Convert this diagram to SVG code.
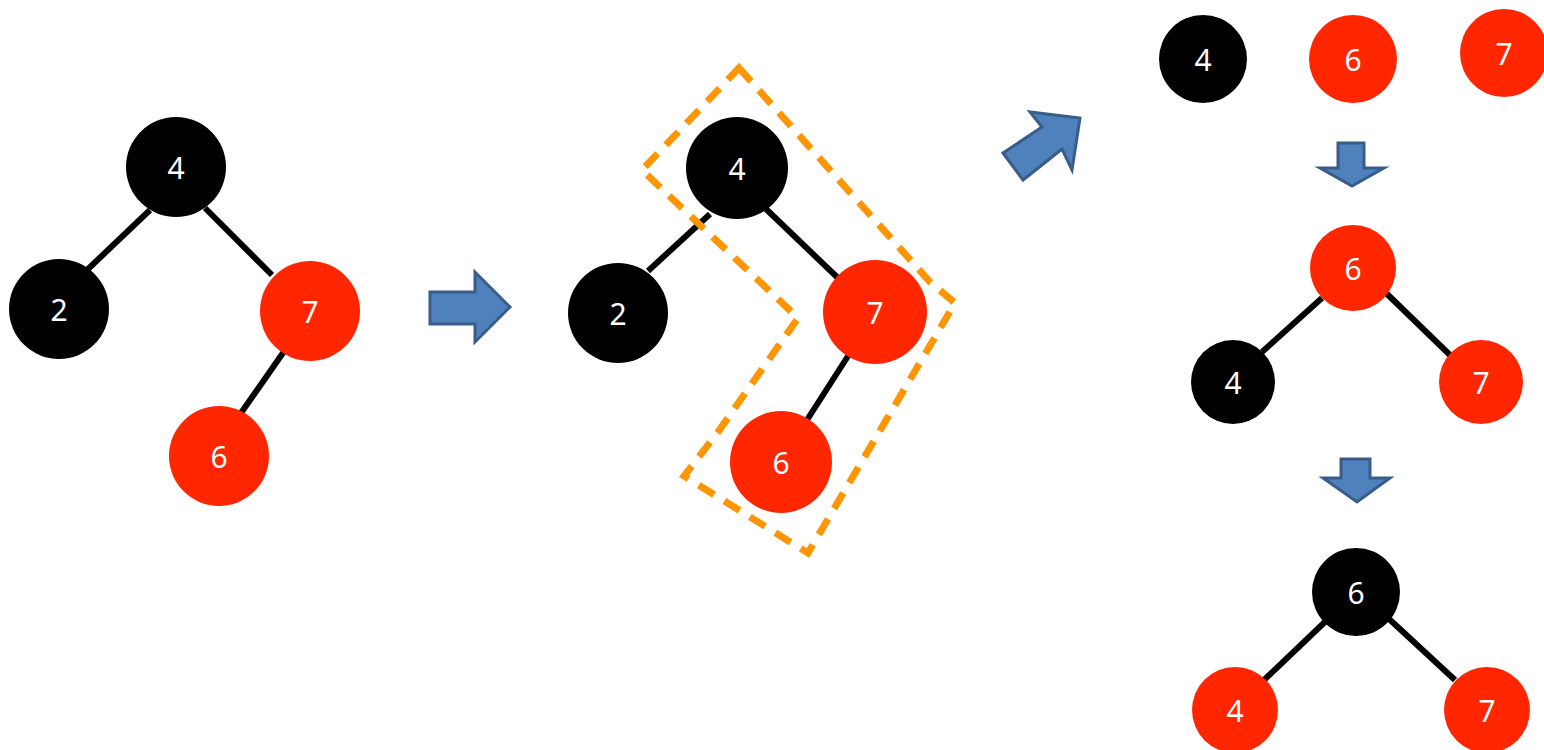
<svg xmlns="http://www.w3.org/2000/svg" width="1544" height="750" viewBox="0 0 1544 750">
<style>
.b{fill:#000}
.r{fill:#FF2600}
.t{fill:#fff;font-family:"Noto Sans","DejaVu Sans",sans-serif;font-size:30px;text-anchor:middle;dominant-baseline:central}
.e{stroke:#000;stroke-width:6;fill:none}
.arr{fill:#4F81BD;stroke:#385D8A;stroke-width:3;stroke-linejoin:miter}
.dash{fill:none;stroke:#FF9500;stroke-width:7;stroke-dasharray:18 12}
</style>
<rect width="1544" height="750" fill="#fff"/>
<g id="connectors">
<line class="e" x1="150" y1="210" x2="87" y2="270"/>
<line class="e" x1="205" y1="208" x2="272" y2="275"/>
<line class="e" x1="285" y1="350" x2="241" y2="413"/>
<line class="e" x1="710" y1="214" x2="648" y2="271"/>
<line class="e" x1="766" y1="209" x2="838" y2="278"/>
<line class="e" x1="850" y1="353" x2="807" y2="420"/>
<line class="e" x1="1322" y1="298" x2="1262" y2="352"/>
<line class="e" x1="1385" y1="292" x2="1450" y2="355"/>
<line class="e" x1="1327" y1="620" x2="1262" y2="682"/>
<line class="e" x1="1388" y1="618" x2="1455" y2="680"/>
</g>
<g id="highlight">
<polygon class="dash" points="739,68 930,282 955,303 808,553 684,476 718,432 798,318 642,170"/>
</g>
<g id="arrows">
<polygon class="arr" points="430,292 475,292 475,272 510,307 475,342 475,324 430,324"/>
<polygon class="arr" points="1003,153 1042,127 1030,112 1080,118 1072,170 1062,149 1023,180"/>
<polygon class="arr" points="1338,143 1364,143 1364,168 1384,168 1352,186 1320,168 1338,168"/>
<polygon class="arr" points="1341,459 1370,459 1370,478 1390,478 1357,502 1323,478 1341,478"/>
</g>
<g id="n-l4"><circle class="b" cx="176" cy="167" r="50"/><text class="t" x="176" y="167">4</text></g>
<g id="n-l2"><circle class="b" cx="59" cy="309" r="50"/><text class="t" x="59" y="309">2</text></g>
<g id="n-l7"><circle class="r" cx="310" cy="311" r="50"/><text class="t" x="310" y="311">7</text></g>
<g id="n-l6"><circle class="r" cx="219" cy="456" r="50"/><text class="t" x="219" y="456">6</text></g>
<g id="n-m4"><circle class="b" cx="737" cy="168" r="51"/><text class="t" x="737" y="168">4</text></g>
<g id="n-m2"><circle class="b" cx="618" cy="313" r="50"/><text class="t" x="618" y="313">2</text></g>
<g id="n-m7"><circle class="r" cx="875" cy="312" r="52"/><text class="t" x="875" y="312">7</text></g>
<g id="n-m6"><circle class="r" cx="781" cy="462" r="51"/><text class="t" x="781" y="462">6</text></g>
<g id="n-a4"><circle class="b" cx="1203" cy="59" r="44"/><text class="t" x="1203" y="59">4</text></g>
<g id="n-a6"><circle class="r" cx="1353" cy="59" r="44"/><text class="t" x="1353" y="59">6</text></g>
<g id="n-a7"><circle class="r" cx="1504" cy="53" r="44"/><text class="t" x="1504" y="53">7</text></g>
<g id="n-b6"><circle class="r" cx="1353" cy="268" r="43"/><text class="t" x="1353" y="268">6</text></g>
<g id="n-b4"><circle class="b" cx="1233" cy="382" r="42"/><text class="t" x="1233" y="382">4</text></g>
<g id="n-b7"><circle class="r" cx="1481" cy="382" r="42"/><text class="t" x="1481" y="382">7</text></g>
<g id="n-c6"><circle class="b" cx="1356" cy="592" r="44"/><text class="t" x="1356" y="592">6</text></g>
<g id="n-c4"><circle class="r" cx="1235" cy="710" r="43"/><text class="t" x="1235" y="710">4</text></g>
<g id="n-c7"><circle class="r" cx="1487" cy="710" r="43"/><text class="t" x="1487" y="710">7</text></g>
</svg>
